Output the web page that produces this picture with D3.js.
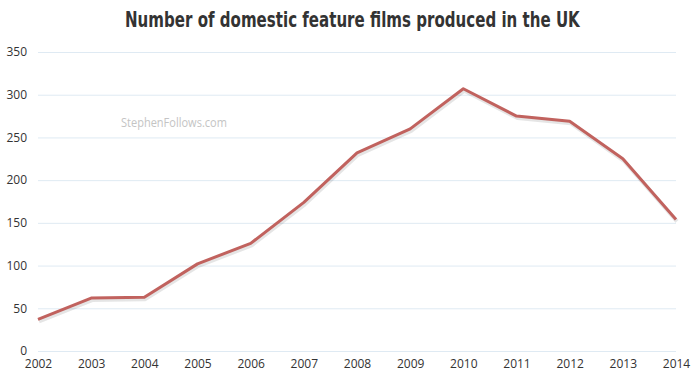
<!DOCTYPE html>
<html><head><meta charset="utf-8">
<script src="https://cdn.jsdelivr.net/npm/d3@7"></script>
<style>body{margin:0;background:#fff}svg{display:block}</style>
</head><body>
<svg id="c" width="700" height="387"></svg>
<script>
const years = [2002,2003,2004,2005,2006,2007,2008,2009,2010,2011,2012,2013,2014];
const films = [37,62,63,102,126,174,232,260,307,275,269,225,154];
const yTicks = [0,50,100,150,200,250,300,350];
const title = "Number of domestic feature films produced in the UK";
const watermark = "StephenFollows.com";

const svg = d3.select("#c");
const x = d3.scaleLinear().domain([2002,2014]).range([38,676]);
const y = d3.scaleLinear().domain([0,350]).range([351,52]);

function fitText(sel, left, width){
  const w = sel.node().getComputedTextLength();
  const s = width / w;
  sel.attr("x",0).attr("transform",`translate(${left},${sel.attr("data-y")}) scale(${s},1)`).attr("y",0);
}

const t = svg.append("text").attr("data-y",27)
  .style("font-family","'DejaVu Sans',sans-serif")
  .style("font-weight","bold").style("font-size","22px").style("fill","#333")
  .text(title);
fitText(t,125,455);

const gy = svg.append("g").attr("transform","translate(38,0)")
  .call(d3.axisLeft(y).tickValues(yTicks).tickSize(-638).tickPadding(11));
gy.select(".domain").remove();
gy.selectAll("line").attr("stroke","#dfeaf3").attr("stroke-width",1);
gy.selectAll("text").style("font-family","'Open Sans',sans-serif").style("font-size","12px").style("fill","#333");

const gx = svg.append("g").attr("transform","translate(0,355)")
  .call(d3.axisBottom(x).tickValues(years).tickFormat(d3.format("d")).tickSize(0).tickPadding(4));
gx.select(".domain").remove();
gx.selectAll("text").style("font-family","'Open Sans',sans-serif").style("font-size","12px").style("fill","#333");

const wm = svg.append("text").attr("data-y",127)
  .style("font-family","'Open Sans',sans-serif").style("font-size","13px").style("fill","#c4c4c4")
  .text(watermark);
fitText(wm,121,106);

const line = d3.line().x((d,i)=>x(years[i])).y(d=>y(d));
svg.append("path").datum(films).attr("d",line).attr("fill","none")
  .attr("stroke","rgba(0,0,0,0.1)").attr("stroke-width",4).attr("transform","translate(1,2)")
  .attr("stroke-linejoin","round");
svg.append("path").datum(films).attr("d",line).attr("fill","none")
  .attr("stroke","#c1625e").attr("stroke-width",3).attr("stroke-linejoin","round");
</script>
</body></html>
